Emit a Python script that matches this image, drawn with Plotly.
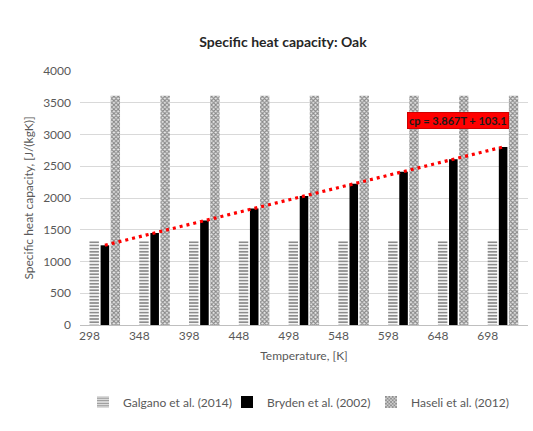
import numpy as np
import plotly.graph_objects as go

# Data
temperature = [298, 348, 398, 448, 498, 548, 598, 648, 698]
galgano = [1320, 1320, 1320, 1320, 1320, 1320, 1320, 1320, 1320]
bryden = [1255, 1450, 1645, 1835, 2030, 2225, 2415, 2610, 2805]
haseli = [3610, 3610, 3610, 3610, 3610, 3610, 3610, 3610, 3610]
tick_labels = [str(t) for t in temperature]
series_names = ["Galgano et al. (2014)", "Bryden et al. (2002)", "Haseli et al. (2012)"]

T = np.array(temperature, dtype=float)
slope, intercept = np.polyfit(T, np.array(bryden, dtype=float), 1)
trend = slope * T + intercept

FONT = "Lato"
GRAY = "#595959"

fig = go.Figure()
fig.add_trace(go.Bar(
    x=temperature, y=galgano, name=series_names[0],
    offset=-15.5, width=9.5,
    marker=dict(color="white", line=dict(width=0),
                pattern=dict(shape="-", size=3.2, solidity=0.55,
                             fgcolor="#1a1a1a", bgcolor="white")),
))
fig.add_trace(go.Bar(
    x=temperature, y=bryden, name=series_names[1],
    offset=-4.3, width=8.6,
    marker=dict(color="black", line=dict(width=0)),
))
fig.add_trace(go.Bar(
    x=temperature, y=haseli, name=series_names[2],
    offset=5.8, width=9.4,
    marker=dict(color="white", line=dict(width=0),
                pattern=dict(shape="x", size=3, solidity=0.6,
                             fgcolor="#2a2a2a", bgcolor="#e8e8e8")),
))
fig.add_trace(go.Scatter(
    x=temperature, y=trend, mode="lines", showlegend=False,
    line=dict(color="#ff0000", width=3.2, dash="3px,4px"),
    hoverinfo="skip",
))

fig.update_layout(
    width=533, height=431,
    margin=dict(l=80, r=5, t=71, b=106),
    paper_bgcolor="white", plot_bgcolor="white",
    barmode="overlay",
    font=dict(family=FONT, color=GRAY, size=12),
    title=dict(text="<b>Specific heat capacity: Oak</b>",
               x=0.531, xref="container", xanchor="center",
               y=1 - 42 / 431, yref="container", yanchor="middle",
               font=dict(family=FONT, size=14, color="#262626")),
    legend=dict(orientation="h", x=(299 - 80) / 448, xanchor="center",
                y=(325 - 402) / 254, yanchor="middle",
                font=dict(family=FONT, size=12, color=GRAY),
                itemwidth=30, entrywidth=99, traceorder="normal"),
    annotations=[dict(
        text="<b>cp = 3.867T + 103.1</b>",
        x=(458 - 80) / 448, xref="paper", y=(325 - 120) / 254, yref="paper",
        xanchor="center", yanchor="middle", showarrow=False,
        font=dict(family=FONT, size=11, color="#1a1a1a"),
        bgcolor="#ff0000", bordercolor="#d00000", borderwidth=1, borderpad=1,
    )],
)

fig.update_xaxes(
    range=[273, 723],
    tickmode="array",
    tickvals=[t - 15.4 for t in temperature],
    ticktext=tick_labels,
    ticks="", showgrid=False, zeroline=False,
    showline=True, linecolor="#bfbfbf", linewidth=1,
    tickfont=dict(family=FONT, size=12, color=GRAY),
    title=dict(text="Temperature, [K]", standoff=9,
               font=dict(family=FONT, size=12, color=GRAY)),
)
fig.update_yaxes(
    range=[0, 4000], dtick=500,
    showgrid=True, gridcolor="#d9d9d9", gridwidth=1,
    zeroline=False, showline=False, ticks="",
    ticklabelstandoff=8,
    tickfont=dict(family=FONT, size=12, color=GRAY),
    title=dict(text="Specific heat capacity, [J/(kgK)]", standoff=6,
               font=dict(family=FONT, size=12, color=GRAY)),
)

fig.write_html("out.html")
